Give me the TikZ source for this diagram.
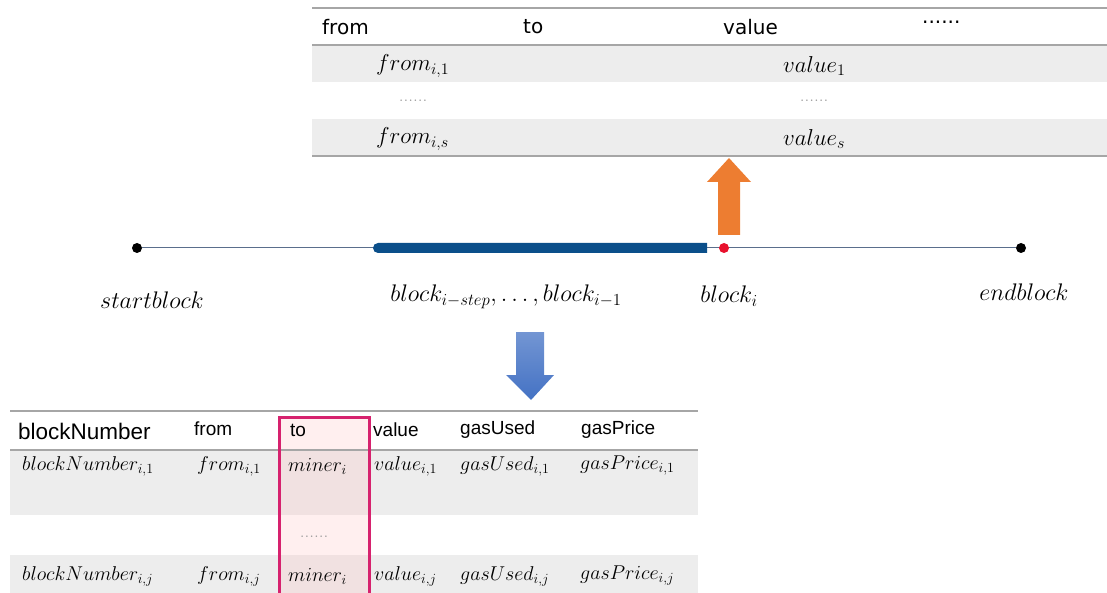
\RequirePackage{fix-cm}
\documentclass[tikz,border=0pt]{standalone}
\usepackage{fontspec}
\setsansfont{Liberation Sans}
\newfontfamily\topfont{DejaVu Sans}
\usepackage{tikz}
\usetikzlibrary{calc,positioning}
\definecolor{rowgray}{HTML}{EDEDED}
\definecolor{rulegray}{HTML}{A6A6A6}
\definecolor{linegray}{HTML}{5A6E8C}
\definecolor{barblue}{HTML}{0B4F8A}
\definecolor{arrorange}{HTML}{ED7D31}
\definecolor{arrblue}{HTML}{4472C4}
\definecolor{dotred}{HTML}{E8112D}
\definecolor{minerpink}{HTML}{D6226E}
\tikzset{
  hdr/.style={font=\topfont\fontsize{20}{24}\selectfont, anchor=west, inner sep=0pt},
  bhdr/.style={font=\sffamily\fontsize{19}{22}\selectfont, anchor=west, inner sep=0pt},
  cell/.style={font=\fontsize{23}{26}\selectfont, anchor=west, inner sep=0pt},
  bcell/.style={font=\fontsize{20}{24}\selectfont, anchor=west, inner sep=0pt},
  more/.style={font=\fontsize{19}{20}\selectfont, text=gray!80, inner sep=0pt},
  rule/.style={draw=rulegray, line width=1.2pt},
  dot/.style={circle, fill=#1, inner sep=0pt, minimum size=10pt},
  tlabel/.style={font=\fontsize{24}{28}\selectfont, inner sep=0pt}
}
\begin{document}
\begin{tikzpicture}[x=1pt, y=-1pt]
\useasboundingbox (0,0) rectangle (1107,593);
% upper table: transactions of block i
\fill[rowgray] (312,45) rectangle (1107,82);
\fill[rowgray] (312,119) rectangle (1107,156);
\draw[rule] (312,8) -- (1107,8);
\draw[rule] (312,45) -- (1107,45);
\draw[rule] (312,156) -- (1107,156);
\node[hdr] (tfrom) at (322,27) {from};
\node[hdr] (tto) at (523,27) {to};
\node[hdr] (tvalue) at (723,27) {value};
\node[hdr] (tmore) at (922,22) {......};
\node[cell] (tf1) at (376,66) {$from_{i,1}$};
\node[cell] (tv1) at (783,66) {$value_{1}$};
\node[more] (tfd) at (413,101) {......};
\node[more] (tvd) at (814,101) {......};
\node[cell] (tfs) at (376,139) {$from_{i,s}$};
\node[cell] (tvs) at (783,139) {$value_{s}$};
% orange arrow up
\coordinate (otip) at (729,158);
\fill[arrorange] (otip) -- ++(22,24) -- ++(-11,0) -- ++(0,53) -- ++(-22,0)
  -- ++(0,-53) -- ++(-11,0) -- cycle;
% timeline
\node[dot=black] (start) at (137,248) {};
\node[dot=black] (end) at (1021,248) {};
\draw[linegray, line width=1pt] (start) -- (end);
\fill[barblue] (707,243) {[rounded corners=5pt] -- (373,243) -- (373,253)} -- (707,253) -- cycle;
\node[dot=dotred] (bi) at (724,248) {};
\node[tlabel] (lstart) at (152,300) {$startblock$};
\node[tlabel] (lstep) at (506,297) {$block_{i-step},\ldots,block_{i-1}$};
\node[tlabel] (lbi) at (729,296) {$block_{i}$};
\node[tlabel] (lend) at (1024,292) {$endblock$};
% blue arrow down
\coordinate (btip) at (531,400);
\shade[top color=arrblue!75!white, bottom color=arrblue] (btip) -- ++(-25,-25) -- ++(10,0)
  -- ++(0,-43) -- ++(28,0) -- ++(0,43) -- ++(10,0) -- cycle;
% lower table: transactions of previous blocks
\fill[rowgray] (10,450) rectangle (698,515);
\fill[rowgray] (10,555) rectangle (698,593);
\fill[pink, opacity=0.25] (279,417) rectangle (369,595);
\draw[rule] (10,411) -- (698,411);
\draw[rule] (10,450) -- (698,450);
\draw[minerpink, line width=3pt] (279,596) |- (369,417) -- (369,596);
\node[bhdr, font=\sffamily\fontsize{22.5}{26}\selectfont] (bnum) at (18,431) {blockNumber};
\node[bhdr] (bfrom) at (194,429) {from};
\node[bhdr] (bto) at (290,430) {to};
\node[bhdr] (bvalue) at (373,430) {value};
\node[bhdr] (bgas) at (460,430) {gasUsed};
\node[bhdr] (bprice) at (581,430) {gasPrice};
\node[bcell] (n1) at (22,466) {$blockNumber_{i,1}$};
\node[bcell] (f1) at (197,466) {$from_{i,1}$};
\node[bcell] (m1) at (288,466) {$miner_{i}$};
\node[bcell] (v1) at (374,466) {$value_{i,1}$};
\node[bcell] (g1) at (460,466) {$gasUsed_{i,1}$};
\node[bcell] (p1) at (580,466) {$gasPrice_{i,1}$};
\node[more] (md) at (314,537) {......};
\node[bcell] (nj) at (22,576) {$blockNumber_{i,j}$};
\node[bcell] (fj) at (197,576) {$from_{i,j}$};
\node[bcell] (mj) at (288,576) {$miner_{i}$};
\node[bcell] (vj) at (374,576) {$value_{i,j}$};
\node[bcell] (gj) at (460,576) {$gasUsed_{i,j}$};
\node[bcell] (pj) at (580,576) {$gasPrice_{i,j}$};
\end{tikzpicture}
\end{document}
